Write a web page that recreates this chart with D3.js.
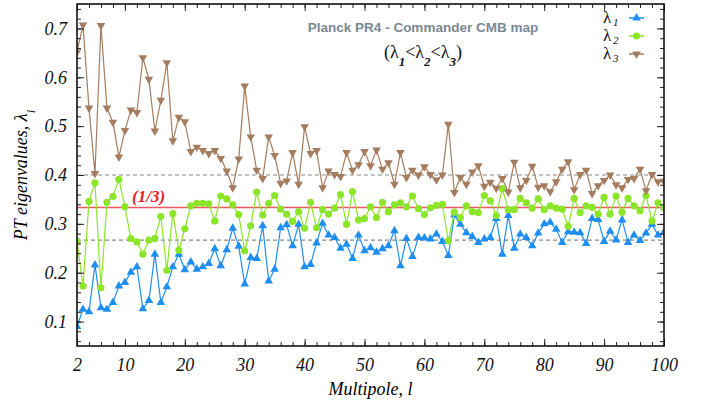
<!DOCTYPE html>
<html>
<head>
<meta charset="utf-8">
<script src="https://cdn.jsdelivr.net/npm/d3@7"></script>
<style>
  body { margin: 0; background: #fff; }
  .tick text { font-family: "Liberation Serif", serif; font-style: italic; font-size: 18px; fill: #111; }
</style>
</head>
<body>
<svg id="chart" width="705" height="405"></svg>
<script>
// multipoles l = 2..100
var multipoles = d3.range(2, 101);

var lambda1 = [0.090,0.125,0.120,0.216,0.128,0.125,0.139,0.173,0.180,0.201,
  0.212,0.126,0.143,0.238,0.139,0.171,0.212,0.238,0.206,0.222,
  0.207,0.212,0.219,0.249,0.214,0.247,0.291,0.254,0.177,0.231,
  0.229,0.296,0.183,0.207,0.292,0.298,0.255,0.299,0.212,0.217,
  0.261,0.301,0.277,0.272,0.250,0.258,0.229,0.277,0.245,0.251,
  0.242,0.249,0.255,0.286,0.214,0.270,0.233,0.272,0.271,0.269,
  0.279,0.264,0.235,0.318,0.299,0.282,0.274,0.262,0.269,0.272,
  0.311,0.238,0.317,0.250,0.279,0.272,0.255,0.281,0.300,0.303,
  0.289,0.262,0.284,0.283,0.282,0.260,0.311,0.309,0.264,0.285,
  0.267,0.308,0.262,0.277,0.266,0.281,0.299,0.277,0.283];

var lambda2 = [0.264,0.173,0.346,0.384,0.169,0.344,0.356,0.391,0.335,0.270,
  0.263,0.238,0.267,0.270,0.315,0.205,0.321,0.246,0.290,0.337,
  0.342,0.342,0.341,0.306,0.357,0.351,0.339,0.319,0.245,0.296,
  0.365,0.318,0.342,0.358,0.330,0.320,0.305,0.325,0.291,0.344,
  0.292,0.329,0.320,0.332,0.360,0.299,0.366,0.308,0.311,0.335,
  0.313,0.344,0.325,0.339,0.343,0.335,0.357,0.331,0.319,0.333,
  0.338,0.340,0.265,0.324,0.313,0.337,0.325,0.323,0.358,0.347,
  0.317,0.372,0.329,0.329,0.352,0.343,0.332,0.351,0.329,0.337,
  0.332,0.330,0.295,0.352,0.323,0.337,0.334,0.320,0.354,0.320,
  0.357,0.324,0.352,0.337,0.327,0.358,0.306,0.343,0.333];

var lambda3 = [0.652,0.707,0.537,0.403,0.706,0.537,0.508,0.437,0.491,0.533,
  0.528,0.640,0.596,0.490,0.553,0.630,0.470,0.518,0.509,0.448,
  0.457,0.450,0.444,0.450,0.434,0.408,0.374,0.433,0.582,0.478,
  0.410,0.393,0.478,0.440,0.383,0.388,0.446,0.381,0.499,0.444,
  0.450,0.374,0.408,0.401,0.397,0.446,0.410,0.421,0.448,0.419,
  0.451,0.412,0.425,0.381,0.446,0.395,0.410,0.400,0.417,0.401,
  0.390,0.400,0.504,0.364,0.395,0.381,0.406,0.419,0.377,0.385,
  0.373,0.393,0.365,0.426,0.374,0.389,0.418,0.375,0.378,0.366,
  0.386,0.412,0.427,0.370,0.401,0.410,0.362,0.378,0.389,0.400,
  0.380,0.374,0.391,0.393,0.412,0.368,0.401,0.386,0.387];

var xTicks = [2, 10, 20, 30, 40, 50, 60, 70, 80, 90, 100];
var yTicks = [0.1, 0.2, 0.3, 0.4, 0.5, 0.6, 0.7];
var refLines = [0.4, 0.2667];   // dashed
var isotropic = 1 / 3;           // red line

var svg = d3.select("#chart");
var margin = {left: 77, right: 41, top: 4, bottom: 59};
var width = 705 - margin.left - margin.right,
    height = 405 - margin.top - margin.bottom;

var x = d3.scaleLinear().domain([2, 100]).range([0, width]);
var y = d3.scaleLinear().domain([0.05, 0.75]).range([height, 0]);

var g = svg.append("g").attr("transform", "translate(" + margin.left + "," + margin.top + ")");

svg.append("defs").append("clipPath").attr("id", "clip")
  .append("rect").attr("width", width).attr("height", height);

// dashed reference lines
g.selectAll(".ref").data(refLines).enter().append("line")
  .attr("x1", 0).attr("x2", width)
  .attr("y1", function(d){ return y(d); }).attr("y2", function(d){ return y(d); })
  .attr("stroke", "#888").attr("stroke-width", 1.1).attr("stroke-dasharray", "4,3");

g.append("line")
  .attr("x1", 0).attr("x2", width)
  .attr("y1", y(isotropic)).attr("y2", y(isotropic))
  .attr("stroke", "#ef5a5f").attr("stroke-width", 1.6);

g.append("text")
  .attr("x", x(11.2)).attr("y", y(isotropic) - 6)
  .attr("font-family", "Liberation Serif, serif").attr("font-style", "italic")
  .attr("font-weight", "bold").attr("font-size", 17).attr("fill", "#e8202a")
  .text("(1/3)");

var series = [
  {name: "1", values: lambda1, color: "#1f8ef1", marker: "up"},
  {name: "2", values: lambda2, color: "#8de52a", marker: "circle"},
  {name: "3", values: lambda3, color: "#a67c5f", marker: "down"}
];

var triUp = d3.symbol().type(d3.symbolTriangle).size(32);

var plot = g.append("g").attr("clip-path", "url(#clip)");

series.forEach(function(s) {
  var pts = multipoles.map(function(l, i){ return [l, s.values[i]]; });
  var line = d3.line().x(function(d){ return x(d[0]); }).y(function(d){ return y(d[1]); });
  plot.append("path").datum(pts)
    .attr("fill", "none").attr("stroke", s.color).attr("stroke-width", 1.2)
    .attr("d", line);

  if (s.marker == "circle") {
    plot.selectAll(".m" + s.name).data(pts).enter().append("circle")
      .attr("cx", function(d){ return x(d[0]); })
      .attr("cy", function(d){ return y(d[1]); })
      .attr("r", 3.6).attr("fill", s.color);
  } else {
    plot.selectAll(".m" + s.name).data(pts).enter().append("path")
      .attr("d", triUp)
      .attr("transform", function(d){
        return "translate(" + x(d[0]) + "," + y(d[1]) + ")" + (s.marker == "down" ? " rotate(180)" : "");
      })
      .attr("fill", s.color);
  }
});

// axes, ticks pointing inwards on all four sides
var xMinor = d3.range(2, 101, 2);
var yMinor = d3.range(0.06, 0.75, 0.02);

g.append("g").attr("transform", "translate(0," + height + ")")
  .call(d3.axisBottom(x).tickValues(xTicks).tickSizeInner(-7).tickSizeOuter(0).tickPadding(12).tickFormat(d3.format("d")));
g.append("g").attr("transform", "translate(0," + height + ")")
  .call(d3.axisBottom(x).tickValues(xMinor).tickSizeInner(-4).tickSizeOuter(0).tickFormat(""));
g.append("g")
  .call(d3.axisTop(x).tickValues(xTicks).tickSizeInner(-7).tickSizeOuter(0).tickFormat(""));
g.append("g")
  .call(d3.axisTop(x).tickValues(xMinor).tickSizeInner(-4).tickSizeOuter(0).tickFormat(""));

g.append("g")
  .call(d3.axisLeft(y).tickValues(yTicks).tickSizeInner(-7).tickSizeOuter(0).tickPadding(10).tickFormat(d3.format(".1f")));
g.append("g")
  .call(d3.axisLeft(y).tickValues(yMinor).tickSizeInner(-4).tickSizeOuter(0).tickFormat(""));
g.append("g").attr("transform", "translate(" + width + ",0)")
  .call(d3.axisRight(y).tickValues(yTicks).tickSizeInner(-7).tickSizeOuter(0).tickFormat(""));
g.append("g").attr("transform", "translate(" + width + ",0)")
  .call(d3.axisRight(y).tickValues(yMinor).tickSizeInner(-4).tickSizeOuter(0).tickFormat(""));

g.selectAll(".domain").remove();
g.selectAll(".tick line").attr("stroke", "#222").attr("stroke-width", 1);

g.append("rect").attr("width", width).attr("height", height)
  .attr("fill", "none").attr("stroke", "#111").attr("stroke-width", 1.6);

// axis titles
svg.append("text")
  .attr("x", margin.left + width / 2).attr("y", 395)
  .attr("text-anchor", "middle")
  .attr("font-family", "Liberation Serif, serif").attr("font-style", "italic").attr("font-size", 18)
  .text("Multipole, l");

var yt = svg.append("text")
  .attr("transform", "translate(27," + (margin.top + height / 2) + ") rotate(-90)")
  .attr("text-anchor", "middle")
  .attr("font-family", "Liberation Serif, serif").attr("font-style", "italic").attr("font-size", 18);
yt.append("tspan").text("PT eigenvalues, λ");
yt.append("tspan").attr("baseline-shift", "sub").attr("font-size", 13).text("i");

// titles
svg.append("text")
  .attr("x", 423).attr("y", 32).attr("text-anchor", "middle")
  .attr("font-family", "Liberation Sans, Arial, sans-serif").attr("font-weight", "bold")
  .attr("font-size", 13.5).attr("fill", "#7b8896")
  .text("Planck PR4 - Commander CMB map");

var sub = svg.append("text")
  .attr("x", 423).attr("y", 58).attr("text-anchor", "middle")
  .attr("font-family", "Liberation Serif, serif").attr("font-size", 18).attr("fill", "#111");
sub.append("tspan").text("(λ");
sub.append("tspan").attr("baseline-shift", "sub").attr("font-size", 13).attr("font-style", "italic").attr("font-weight", "bold").text("1");
sub.append("tspan").text("<λ");
sub.append("tspan").attr("baseline-shift", "sub").attr("font-size", 13).attr("font-style", "italic").attr("font-weight", "bold").text("2");
sub.append("tspan").text("<λ");
sub.append("tspan").attr("baseline-shift", "sub").attr("font-size", 13).attr("font-style", "italic").attr("font-weight", "bold").text("3");
sub.append("tspan").text(")");

// legend: label text and line sample kept as separate texts so rows do not collide
var legend = svg.append("g").attr("transform", "translate(603,18)");
series.forEach(function(s, i) {
  var row = legend.append("g").attr("transform", "translate(0," + (i * 18) + ")");
  row.append("text").attr("x", 0).attr("y", 5)
    .attr("font-family", "Liberation Serif, serif").attr("font-size", 17).attr("fill", "#111")
    .text("λ");
  row.append("text").attr("x", 10).attr("y", 8)
    .attr("font-family", "Liberation Serif, serif").attr("font-size", 11).attr("font-style", "italic").attr("fill", "#111")
    .text(s.name);
  row.append("line").attr("x1", 26).attr("x2", 41).attr("y1", 0).attr("y2", 0)
    .attr("stroke", s.color).attr("stroke-width", 1.5);
  if (s.marker == "circle") {
    row.append("circle").attr("cx", 33.5).attr("cy", 0).attr("r", 3.6).attr("fill", s.color);
  } else {
    row.append("path").attr("d", triUp)
      .attr("transform", "translate(33.5,0)" + (s.marker == "down" ? " rotate(180)" : ""))
      .attr("fill", s.color);
  }
});
</script>
</body>
</html>
